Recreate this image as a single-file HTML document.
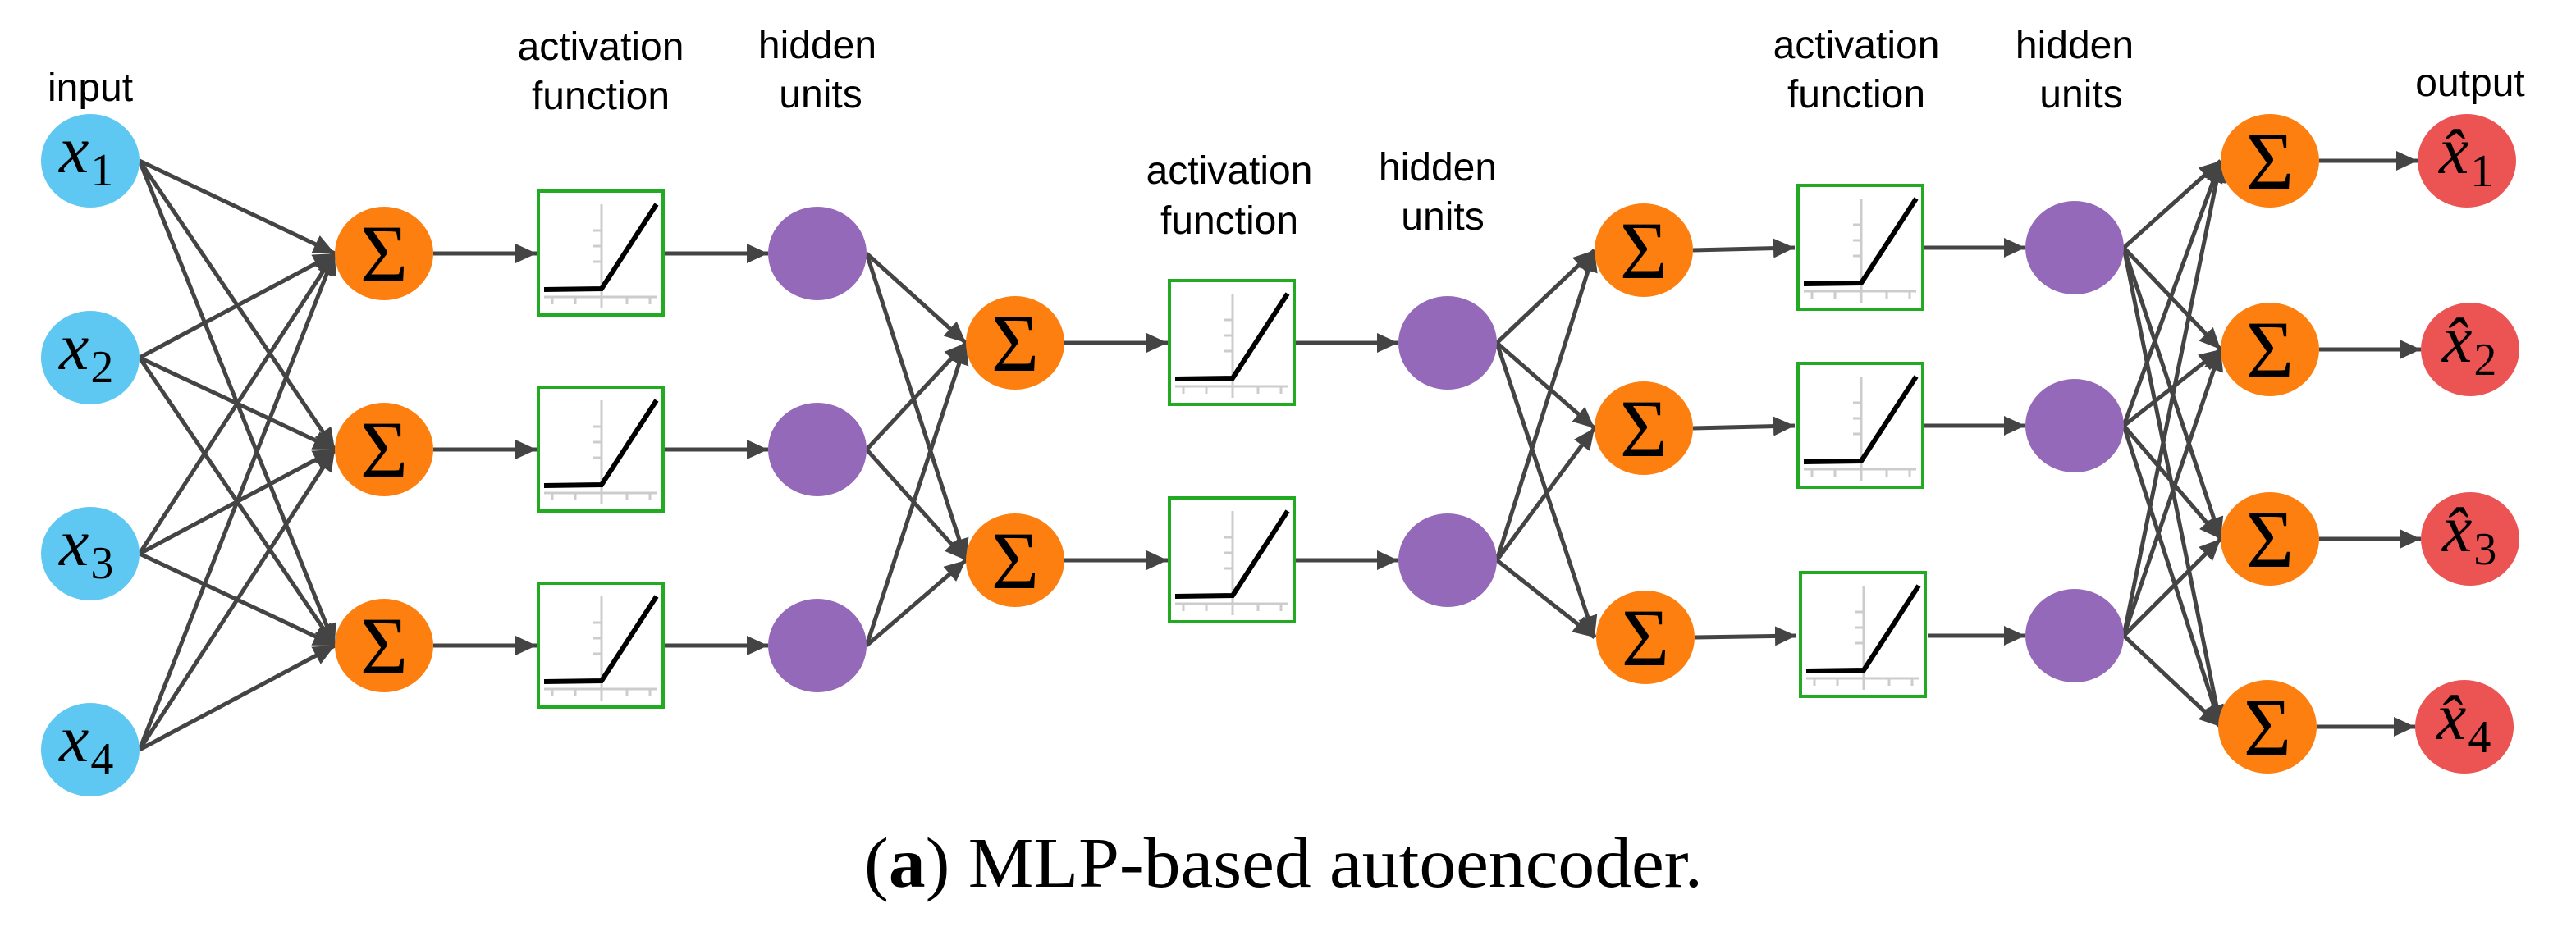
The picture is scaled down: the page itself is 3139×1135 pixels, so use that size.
<!DOCTYPE html>
<html><head><meta charset="utf-8"><style>
html,body{margin:0;padding:0;background:#fff;}
svg{display:block;}
.lbl{font-family:"Liberation Sans",Arial,sans-serif;font-size:48px;fill:#000;text-anchor:middle;}
.sig{font-family:"Liberation Serif","DejaVu Serif",serif;font-size:100px;fill:#000;text-anchor:middle;}
.var{font-family:"Liberation Serif","DejaVu Serif",serif;font-size:82px;fill:#000;font-style:italic;}
.sub{font-family:"Liberation Serif","DejaVu Serif",serif;font-size:56px;fill:#000;font-style:normal;}
.e{stroke:#444;stroke-width:5;fill:none;marker-end:url(#ah);}
</style></head><body>
<svg width="3139" height="1135" viewBox="0 0 3139 1135" xmlns="http://www.w3.org/2000/svg">
<defs>
<marker id="ah" markerUnits="userSpaceOnUse" markerWidth="30" markerHeight="30" refX="26" refY="12" orient="auto">
<path d="M0,0 L26,12 L0,24 Z" fill="#444"/>
</marker>
<g id="box">
<rect x="2" y="2" width="152" height="151" fill="#fff" stroke="#22aa22" stroke-width="4"/>
<line x1="79" y1="18" x2="79" y2="145" stroke="#ccc" stroke-width="3"/>
<line x1="9" y1="131" x2="146" y2="131" stroke="#ccc" stroke-width="3"/>
<line x1="69" y1="50" x2="79" y2="50" stroke="#ccc" stroke-width="3"/>
<line x1="69" y1="69" x2="79" y2="69" stroke="#ccc" stroke-width="3"/>
<line x1="69" y1="88" x2="79" y2="88" stroke="#ccc" stroke-width="3"/>
<line x1="19" y1="131" x2="19" y2="140" stroke="#ccc" stroke-width="3"/>
<line x1="47" y1="131" x2="47" y2="140" stroke="#ccc" stroke-width="3"/>
<line x1="110" y1="131" x2="110" y2="140" stroke="#ccc" stroke-width="3"/>
<line x1="138" y1="131" x2="138" y2="140" stroke="#ccc" stroke-width="3"/>
<polyline points="9,122 79,121 146,18" fill="none" stroke="#000" stroke-width="6"/>
</g>
</defs>

<g>
<line class="e" x1="170" y1="196" x2="408" y2="309"/><line class="e" x1="170" y1="196" x2="408" y2="548"/><line class="e" x1="170" y1="196" x2="408" y2="787"/>
<line class="e" x1="170" y1="436" x2="408" y2="309"/><line class="e" x1="170" y1="436" x2="408" y2="548"/><line class="e" x1="170" y1="436" x2="408" y2="787"/>
<line class="e" x1="170" y1="675" x2="408" y2="309"/><line class="e" x1="170" y1="675" x2="408" y2="548"/><line class="e" x1="170" y1="675" x2="408" y2="787"/>
<line class="e" x1="170" y1="914" x2="408" y2="309"/><line class="e" x1="170" y1="914" x2="408" y2="548"/><line class="e" x1="170" y1="914" x2="408" y2="787"/>
<line class="e" x1="528" y1="309" x2="654" y2="309"/><line class="e" x1="528" y1="548" x2="654" y2="548"/><line class="e" x1="528" y1="787" x2="654" y2="787"/>
<line class="e" x1="810" y1="309" x2="936" y2="309"/><line class="e" x1="810" y1="548" x2="936" y2="548"/><line class="e" x1="810" y1="787" x2="936" y2="787"/>
<line class="e" x1="1056" y1="309" x2="1177" y2="418"/><line class="e" x1="1056" y1="309" x2="1177" y2="683"/>
<line class="e" x1="1056" y1="548" x2="1177" y2="418"/><line class="e" x1="1056" y1="548" x2="1177" y2="683"/>
<line class="e" x1="1056" y1="787" x2="1177" y2="418"/><line class="e" x1="1056" y1="787" x2="1177" y2="683"/>
<line class="e" x1="1297" y1="418" x2="1423" y2="418"/><line class="e" x1="1297" y1="683" x2="1423" y2="683"/>
<line class="e" x1="1579" y1="418" x2="1704" y2="418"/><line class="e" x1="1579" y1="683" x2="1704" y2="683"/>
<line class="e" x1="1824" y1="418" x2="1943" y2="305"/><line class="e" x1="1824" y1="418" x2="1943" y2="522"/><line class="e" x1="1824" y1="418" x2="1943" y2="777"/>
<line class="e" x1="1824" y1="683" x2="1943" y2="305"/><line class="e" x1="1824" y1="683" x2="1943" y2="522"/><line class="e" x1="1824" y1="683" x2="1943" y2="777"/>
<line class="e" x1="2063" y1="305" x2="2187" y2="302"/><line class="e" x1="2063" y1="522" x2="2187" y2="519"/><line class="e" x1="2065" y1="777" x2="2189" y2="775"/>
<line class="e" x1="2345" y1="302" x2="2468" y2="302"/><line class="e" x1="2345" y1="519" x2="2468" y2="519"/><line class="e" x1="2349" y1="775" x2="2468" y2="775"/>
<line class="e" x1="2588" y1="302" x2="2706" y2="196"/><line class="e" x1="2588" y1="302" x2="2706" y2="426"/><line class="e" x1="2588" y1="302" x2="2706" y2="657"/><line class="e" x1="2588" y1="302" x2="2706" y2="886"/>
<line class="e" x1="2588" y1="519" x2="2706" y2="196"/><line class="e" x1="2588" y1="519" x2="2706" y2="426"/><line class="e" x1="2588" y1="519" x2="2706" y2="657"/><line class="e" x1="2588" y1="519" x2="2706" y2="886"/>
<line class="e" x1="2588" y1="775" x2="2706" y2="196"/><line class="e" x1="2588" y1="775" x2="2706" y2="426"/><line class="e" x1="2588" y1="775" x2="2706" y2="657"/><line class="e" x1="2588" y1="775" x2="2706" y2="886"/>
<line class="e" x1="2826" y1="196" x2="2946" y2="196"/><line class="e" x1="2826" y1="426" x2="2950" y2="426"/><line class="e" x1="2826" y1="657" x2="2950" y2="657"/><line class="e" x1="2823" y1="886" x2="2943" y2="886"/>
</g>

<g fill="#5fc8f2">
<ellipse cx="110" cy="196" rx="60" ry="57"/><ellipse cx="110" cy="436" rx="60" ry="57"/><ellipse cx="110" cy="675" rx="60" ry="57"/><ellipse cx="110" cy="914" rx="60" ry="57"/>
</g>
<text class="var" x="72" y="210">x<tspan class="sub" dx="2" dy="16">1</tspan></text>
<text class="var" x="72" y="450">x<tspan class="sub" dx="2" dy="16">2</tspan></text>
<text class="var" x="72" y="689">x<tspan class="sub" dx="2" dy="16">3</tspan></text>
<text class="var" x="72" y="928">x<tspan class="sub" dx="2" dy="16">4</tspan></text>

<g fill="#fd7f0f">
<ellipse cx="468" cy="309" rx="60" ry="57"/><ellipse cx="468" cy="548" rx="60" ry="57"/><ellipse cx="468" cy="787" rx="60" ry="57"/>
<ellipse cx="1237" cy="418" rx="60" ry="57"/><ellipse cx="1237" cy="683" rx="60" ry="57"/>
<ellipse cx="2003" cy="305" rx="60" ry="57"/><ellipse cx="2003" cy="522" rx="60" ry="57"/><ellipse cx="2005" cy="777" rx="60" ry="57"/>
<ellipse cx="2766" cy="196" rx="60" ry="57"/><ellipse cx="2766" cy="426" rx="60" ry="57"/><ellipse cx="2766" cy="657" rx="60" ry="57"/><ellipse cx="2763" cy="886" rx="60" ry="57"/>
</g>
<g>
<text class="sig" x="468" y="343">Σ</text><text class="sig" x="468" y="582">Σ</text><text class="sig" x="468" y="821">Σ</text>
<text class="sig" x="1237" y="452">Σ</text><text class="sig" x="1237" y="717">Σ</text>
<text class="sig" x="2003" y="339">Σ</text><text class="sig" x="2003" y="556">Σ</text><text class="sig" x="2005" y="811">Σ</text>
<text class="sig" x="2766" y="230">Σ</text><text class="sig" x="2766" y="460">Σ</text><text class="sig" x="2766" y="691">Σ</text><text class="sig" x="2763" y="920">Σ</text>
</g>

<use href="#box" x="654" y="231"/><use href="#box" x="654" y="470"/><use href="#box" x="654" y="709"/>
<use href="#box" x="1423" y="340"/><use href="#box" x="1423" y="605"/>
<use href="#box" x="2189" y="224"/><use href="#box" x="2189" y="441"/><use href="#box" x="2192" y="696"/>

<g fill="#9569b9">
<ellipse cx="996" cy="309" rx="60" ry="57"/><ellipse cx="996" cy="548" rx="60" ry="57"/><ellipse cx="996" cy="787" rx="60" ry="57"/>
<ellipse cx="1764" cy="418" rx="60" ry="57"/><ellipse cx="1764" cy="683" rx="60" ry="57"/>
<ellipse cx="2528" cy="302" rx="60" ry="57"/><ellipse cx="2528" cy="519" rx="60" ry="57"/><ellipse cx="2528" cy="775" rx="60" ry="57"/>
</g>

<g fill="#ec5454">
<ellipse cx="3006" cy="196" rx="60" ry="57"/><ellipse cx="3010" cy="426" rx="60" ry="57"/><ellipse cx="3010" cy="657" rx="60" ry="57"/><ellipse cx="3003" cy="886" rx="60" ry="57"/>
</g>
<text class="var" x="2972" y="211">x̂<tspan class="sub" dx="2" dy="16">1</tspan></text>
<text class="var" x="2976" y="441">x̂<tspan class="sub" dx="2" dy="16">2</tspan></text>
<text class="var" x="2976" y="672">x̂<tspan class="sub" dx="2" dy="16">3</tspan></text>
<text class="var" x="2969" y="901">x̂<tspan class="sub" dx="2" dy="16">4</tspan></text>

<text class="lbl" x="110" y="123">input</text>
<text class="lbl" x="732" y="73">activation</text><text class="lbl" x="732" y="133">function</text>
<text class="lbl" x="996" y="71">hidden</text><text class="lbl" x="1000" y="131">units</text>
<text class="lbl" x="1498" y="224">activation</text><text class="lbl" x="1498" y="285">function</text>
<text class="lbl" x="1752" y="220">hidden</text><text class="lbl" x="1758" y="280">units</text>
<text class="lbl" x="2262" y="71">activation</text><text class="lbl" x="2262" y="131">function</text>
<text class="lbl" x="2528" y="71">hidden</text><text class="lbl" x="2536" y="131">units</text>
<text class="lbl" x="3010" y="117">output</text>

<text x="1053" y="1081" textLength="1022" lengthAdjust="spacingAndGlyphs" style="font-family:'Liberation Serif','DejaVu Serif',serif;font-size:87px;fill:#000;">(<tspan font-weight="bold">a</tspan>) MLP-based autoencoder.</text>
</svg>
</body></html>
